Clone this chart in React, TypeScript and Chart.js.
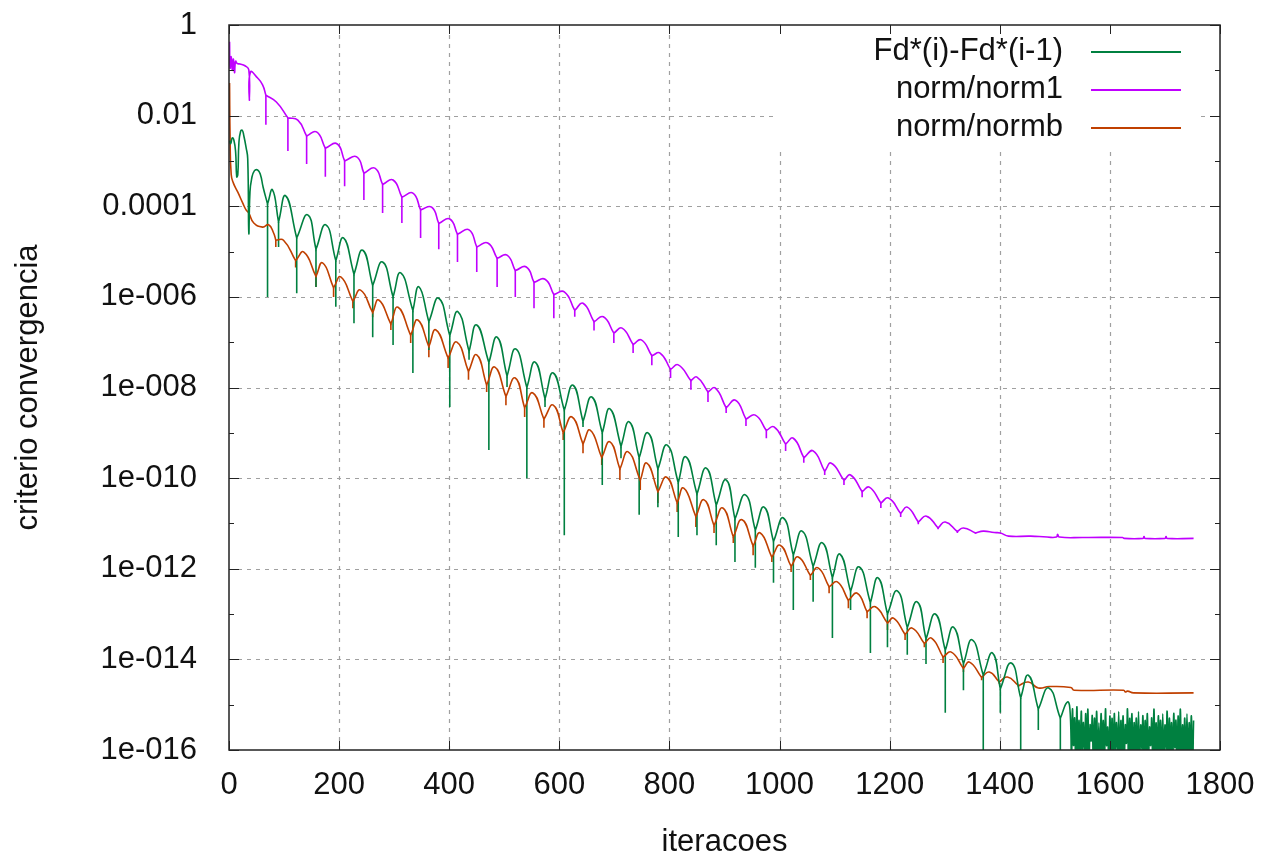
import { useEffect, useRef } from 'react';
import { Chart, registerables } from 'chart.js';

Chart.register(...registerables);

// ---------- axes ----------
const xTickValues = [0, 200, 400, 600, 800, 1000, 1200, 1400, 1600, 1800];
const yTickExps = [0, -1, -2, -3, -4, -5, -6, -7, -8, -9, -10, -11, -12, -13, -14, -15, -16];
const yMajorExps = [0, -2, -4, -6, -8, -10, -12, -14, -16];
const yTickLabels = ['1', '0.01', '0.0001', '1e-006', '1e-008', '1e-010', '1e-012', '1e-014', '1e-016'];

const seriesLabels = ['Fd*(i)-Fd*(i-1)', 'norm/norm1', 'norm/normb'];

// All values below are log10 of the plotted quantity.

// ---------- Fd*(i)-Fd*(i-1) (green) ----------
const greenHeadIter = [1, 3, 6, 9, 12, 14, 16, 18, 21, 24, 27, 31, 34, 36, 38, 41, 46, 52, 57, 62];
const greenHeadLog = [-2.55, -2.62, -2.49, -2.55, -2.8, -3.35, -3.3, -2.6, -2.35, -2.32, -2.45, -2.7, -2.95, -4.59, -3.71, -3.4, -3.22, -3.2, -3.3, -3.58];
const greenDipIter = [70, 90, 123, 158, 194, 227, 261, 298, 334, 363, 401, 436, 472, 505, 541, 574, 609, 643, 678, 712, 745, 779, 816, 850, 885, 919, 956, 989, 1025, 1061, 1096, 1129, 1165, 1196, 1232, 1266, 1301, 1334, 1370, 1401, 1438, 1470, 1510];
const greenDipFoot = [-3.95, -4.35, -4.7, -4.95, -5.2, -5.5, -5.75, -6.0, -6.3, -6.55, -6.85, -7.2, -7.45, -7.75, -8.0, -8.25, -8.5, -8.75, -9.0, -9.3, -9.55, -9.8, -10.1, -10.35, -10.6, -10.9, -11.15, -11.4, -11.7, -11.95, -12.2, -12.5, -12.75, -13.0, -13.3, -13.55, -13.8, -14.1, -14.35, -14.65, -14.85, -15.1, -15.3];
const greenDipBottom = [-6.0, -4.9, -5.92, -5.78, -6.22, -6.58, -6.89, -7.06, -7.68, -7.17, -8.43, -7.39, -9.38, -7.99, -10.0, -8.43, -11.26, -8.87, -10.15, -9.56, -10.81, -10.64, -11.3, -11.26, -11.48, -11.85, -11.98, -12.31, -12.91, -12.73, -13.53, -12.91, -13.86, -13.73, -13.9, -14.1, -15.18, -14.68, -16.5, -15.18, -16.5, -15.56, -16.5];
const greenPeakIter = [79, 103, 143, 176, 208, 243, 279, 312, 345, 381, 416, 450, 487, 521, 556, 589, 625, 659, 692, 727, 761, 796, 830, 867, 903, 938, 972, 1007, 1041, 1078, 1110, 1145, 1179, 1214, 1250, 1283, 1316, 1350, 1387, 1421, 1452, 1489, 1523];
const greenPeakLog = [-3.64, -3.77, -4.19, -4.41, -4.7, -4.97, -5.23, -5.47, -5.78, -6.03, -6.33, -6.62, -6.89, -7.15, -7.44, -7.68, -7.95, -8.21, -8.47, -8.76, -9.0, -9.27, -9.53, -9.78, -10.04, -10.37, -10.64, -10.88, -11.17, -11.43, -11.68, -11.96, -12.2, -12.49, -12.73, -13.0, -13.29, -13.57, -13.86, -14.08, -14.35, -14.63, -14.94];
const greenTailIter = [
  1528, 1530, 1532, 1534, 1536, 1538, 1540, 1542, 1544, 1546, 1548, 1550, 1552, 1554, 1556, 1558, 1560, 1562, 1564, 1566,
  1568, 1570, 1572, 1574, 1576, 1578, 1580, 1582, 1584, 1586, 1588, 1590, 1592, 1594, 1596, 1598, 1600, 1602, 1604, 1606,
  1608, 1610, 1612, 1614, 1616, 1618, 1620, 1622, 1624, 1626, 1628, 1630, 1632, 1634, 1636, 1638, 1640, 1642, 1644, 1646,
  1648, 1650, 1652, 1654, 1656, 1658, 1660, 1662, 1664, 1666, 1668, 1670, 1672, 1674, 1676, 1678, 1680, 1682, 1684, 1686,
  1688, 1690, 1692, 1694, 1696, 1698, 1700, 1702, 1704, 1706, 1708, 1710, 1712, 1714, 1716, 1718, 1720, 1722, 1724, 1726,
  1728, 1730, 1732, 1734, 1736, 1738, 1740, 1742, 1744, 1746, 1748, 1750, 1752,
];
const greenTailLog = [
  -15.2, -16.5, -15.1, -15.9, -15.3, -16.5, -15.05, -16.2, -15.35, -16.5, -15.15, -16.0, -15.4, -16.5, -15.2, -16.3, -15.1, -16.5, -15.45, -15.8,
  -15.25, -16.5, -15.3, -16.1, -15.15, -16.5, -15.4, -16.5, -15.2, -16.2, -15.35, -16.5, -15.1, -15.9, -15.5, -16.5, -15.25, -16.3, -15.3, -16.5,
  -15.2, -16.0, -15.4, -16.5, -15.15, -16.5, -15.35, -16.2, -15.25, -16.5, -15.45, -15.85, -15.1, -16.5, -15.3, -16.3, -15.2, -16.5, -15.4, -16.1,
  -15.3, -16.5, -15.15, -16.5, -15.45, -16.0, -15.25, -16.5, -15.35, -16.2, -15.2, -16.5, -15.5, -15.9, -15.3, -16.5, -15.1, -16.3, -15.4, -16.5,
  -15.25, -16.1, -15.35, -16.5, -15.2, -16.5, -15.45, -16.0, -15.15, -16.5, -15.3, -16.2, -15.4, -16.5, -15.2, -15.95, -15.35, -16.5, -15.25, -16.3,
  -15.1, -16.5, -15.45, -16.1, -15.3, -16.5, -15.2, -16.5, -15.4, -16.2, -15.25, -16.5, -15.35,
];

// ---------- norm/norm1 (purple) ----------
const purpleHeadIter = [1, 2, 4, 6, 8, 10, 12, 15, 20, 29, 36, 37, 39, 52, 61];
const purpleHeadLog = [-0.37, -0.95, -0.7, -1.0, -0.75, -1.05, -0.8, -0.85, -0.86, -0.9, -0.99, -1.66, -1.04, -1.17, -1.32];
const purpleDipIter = [67, 107, 141, 175, 210, 245, 279, 314, 348, 381, 415, 450, 487, 520, 554, 590, 628, 663, 699, 734, 768, 802, 839, 870, 903, 939, 976, 1011, 1044, 1082, 1117, 1150, 1184, 1220, 1252, 1288, 1323, 1356];
const purpleDipFoot = [-1.55, -2.05, -2.45, -2.72, -3.0, -3.27, -3.52, -3.8, -4.08, -4.38, -4.62, -4.9, -5.15, -5.42, -5.68, -5.95, -6.3, -6.55, -6.8, -7.05, -7.3, -7.6, -7.85, -8.1, -8.45, -8.7, -8.95, -9.25, -9.55, -9.85, -10.05, -10.3, -10.55, -10.78, -10.97, -11.1, -11.18, -11.21];
const purpleDipBottom = [-2.2, -2.78, -3.07, -3.35, -3.56, -3.86, -4.15, -4.37, -4.7, -4.95, -5.23, -5.45, -5.78, -6.0, -6.25, -6.47, -6.44, -6.74, -7.02, -7.24, -7.51, -7.79, -8.05, -8.32, -8.56, -8.85, -9.12, -9.4, -9.66, -9.93, -10.15, -10.42, -10.66, -10.86, -11.02, -11.13, -11.21, -11.23];
const purplePeakIter = [86, 125, 159, 196, 232, 265, 298, 334, 368, 401, 436, 470, 505, 540, 574, 609, 643, 680, 714, 749, 783, 816, 850, 883, 920, 956, 990, 1025, 1061, 1094, 1129, 1163, 1198, 1232, 1267, 1301, 1334, 1370];
const purplePeakLog = [-1.7, -2.1, -2.36, -2.62, -2.91, -3.16, -3.42, -3.71, -4.02, -4.28, -4.52, -4.81, -5.08, -5.34, -5.61, -5.89, -6.14, -6.44, -6.69, -6.95, -7.24, -7.5, -7.77, -8.01, -8.28, -8.61, -8.87, -9.12, -9.4, -9.67, -9.93, -10.2, -10.44, -10.64, -10.84, -10.97, -11.1, -11.17];
const purpleTailIter = [1390, 1401, 1416, 1456, 1486, 1503, 1505, 1508, 1552, 1623, 1626, 1660, 1662, 1664, 1700, 1702, 1704, 1752];
const purpleTailLog = [-11.2, -11.21, -11.28, -11.28, -11.3, -11.3, -11.24, -11.3, -11.31, -11.31, -11.33, -11.33, -11.29, -11.33, -11.33, -11.29, -11.33, -11.33];

// ---------- norm/normb (orange) ----------
const orangeHeadIter = [1, 2, 4, 8, 16, 25, 31, 36, 45, 61, 72, 81];
const orangeHeadLog = [-1.28, -2.5, -3.3, -3.49, -3.69, -3.93, -4.08, -4.15, -4.37, -4.46, -4.41, -4.59];
const orangeDipIter = [85, 121, 158, 190, 225, 261, 294, 330, 363, 398, 435, 468, 503, 537, 572, 607, 643, 677, 710, 747, 779, 814, 848, 881, 916, 952, 986, 1021, 1056, 1090, 1125, 1159, 1196, 1228, 1263, 1297, 1334, 1367, 1399, 1434];
const orangeDipFoot = [-4.75, -5.2, -5.55, -5.8, -6.1, -6.35, -6.6, -6.85, -7.1, -7.35, -7.65, -7.95, -8.2, -8.45, -8.7, -9.0, -9.25, -9.55, -9.8, -10.05, -10.3, -10.55, -10.85, -11.05, -11.3, -11.5, -11.75, -11.95, -12.15, -12.4, -12.7, -12.95, -13.2, -13.45, -13.65, -13.95, -14.2, -14.4, -14.5, -14.58];
const orangeDipBottom = [-4.9, -5.35, -5.78, -6.0, -6.25, -6.45, -6.73, -7.02, -7.33, -7.57, -7.83, -8.1, -8.39, -8.65, -8.89, -9.16, -9.45, -9.71, -10.04, -10.26, -10.55, -10.75, -11.08, -11.21, -11.43, -11.7, -11.85, -12.07, -12.25, -12.54, -12.87, -13.09, -13.35, -13.57, -13.73, -14.08, -14.28, -14.46, -14.54, -14.61];
const orangePeakIter = [99, 136, 170, 203, 239, 272, 307, 343, 376, 414, 450, 483, 520, 552, 589, 623, 656, 692, 725, 759, 795, 826, 863, 897, 932, 965, 1001, 1034, 1070, 1105, 1141, 1174, 1207, 1241, 1276, 1312, 1345, 1381, 1414, 1452];
const orangePeakLog = [-4.75, -5.01, -5.25, -5.56, -5.85, -6.07, -6.23, -6.51, -6.73, -7.0, -7.28, -7.55, -7.79, -8.12, -8.39, -8.65, -8.94, -9.2, -9.42, -9.67, -9.98, -10.22, -10.48, -10.66, -10.92, -11.21, -11.48, -11.74, -11.98, -12.29, -12.54, -12.84, -13.09, -13.31, -13.53, -13.84, -14.06, -14.28, -14.39, -14.5];
const orangeTailIter = [1470, 1490, 1529, 1535, 1625, 1628, 1632, 1643, 1752];
const orangeTailLog = [-14.63, -14.6, -14.62, -14.68, -14.68, -14.72, -14.7, -14.74, -14.74];

const COLORS = ['#008040', '#c000ff', '#c04000'];
const FONT_FAMILY = "'Liberation Sans', Arial, sans-serif";
const TEXT_COLOR = '#111111';

type Pt = { x: number; y: number };

// Arch curve: head, then for every dip the arch foot (twice, so the curve has a cusp there) and the next peak, then the tail.
function buildArches(
  headIter: number[], headLog: number[],
  dipIter: number[], dipFoot: number[],
  peakIter: number[], peakLog: number[],
  tailIter: number[], tailLog: number[]
): Pt[] {
  const pts: Pt[] = [];
  headIter.forEach((x, i) => pts.push({ x, y: Math.pow(10, headLog[i]) }));
  dipIter.forEach((d, i) => {
    pts.push({ x: d, y: Math.pow(10, dipFoot[i]) });
    pts.push({ x: d, y: Math.pow(10, dipFoot[i]) });
    pts.push({ x: peakIter[i], y: Math.pow(10, peakLog[i]) });
  });
  tailIter.forEach((x, i) => pts.push({ x, y: Math.pow(10, tailLog[i]) }));
  return pts;
}

// Spikes: straight drops from the arch foot to the bottom value at each dip, separated by gaps.
function buildSpikes(dipIter: number[], dipFoot: number[], dipBottom: number[]): Pt[] {
  const pts: Pt[] = [];
  dipIter.forEach((d, i) => {
    pts.push({ x: d, y: Math.pow(10, dipFoot[i]) });
    pts.push({ x: d, y: Math.pow(10, dipBottom[i]) });
    pts.push({ x: d, y: NaN });
  });
  return pts;
}

const gnuplotDecor = {
  id: 'gnuplotDecor',
  beforeDatasetsDraw(chart: any) {
    const { ctx, chartArea: a, scales } = chart;
    const xs = scales.x;
    const ys = scales.y;
    ctx.save();
    ctx.strokeStyle = '#a0a0a0';
    ctx.lineWidth = 1.2;
    ctx.setLineDash([4, 5]);
    xTickValues.forEach((v) => {
      if (v === xTickValues[0] || v === xTickValues[xTickValues.length - 1]) return;
      const px = Math.round(xs.getPixelForValue(v)) + 0.5;
      ctx.beginPath();
      ctx.moveTo(px, a.bottom);
      ctx.lineTo(px, a.top);
      ctx.stroke();
    });
    yMajorExps.forEach((e) => {
      if (e === 0 || e === -16) return;
      const py = Math.round(ys.getPixelForValue(Math.pow(10, e))) + 0.5;
      ctx.beginPath();
      ctx.moveTo(a.left, py);
      ctx.lineTo(a.right, py);
      ctx.stroke();
    });
    ctx.restore();
  },
  afterDatasetsDraw(chart: any) {
    const { ctx, chartArea: a, scales } = chart;
    const xs = scales.x;
    const ys = scales.y;
    ctx.save();
    // opaque key box
    ctx.fillStyle = '#ffffff';
    ctx.fillRect(775, a.top + 1, 422, 121);
    // frame
    ctx.strokeStyle = '#222222';
    ctx.lineWidth = 1.5;
    ctx.setLineDash([]);
    ctx.strokeRect(a.left, a.top, a.right - a.left, a.bottom - a.top);
    // inward ticks
    ctx.lineWidth = 1;
    xTickValues.forEach((v) => {
      const px = Math.round(xs.getPixelForValue(v)) + 0.5;
      ctx.beginPath();
      ctx.moveTo(px, a.bottom);
      ctx.lineTo(px, a.bottom - 9);
      ctx.moveTo(px, a.top);
      ctx.lineTo(px, a.top + 9);
      ctx.stroke();
    });
    yTickExps.forEach((e) => {
      const len = yMajorExps.includes(e) ? 10 : 5;
      const py = Math.round(ys.getPixelForValue(Math.pow(10, e))) + 0.5;
      ctx.beginPath();
      ctx.moveTo(a.left, py);
      ctx.lineTo(a.left + len, py);
      ctx.moveTo(a.right, py);
      ctx.lineTo(a.right - len, py);
      ctx.stroke();
    });
    // key
    const rows = [52, 90, 128];
    ctx.font = `31px ${FONT_FAMILY}`;
    ctx.textAlign = 'right';
    ctx.textBaseline = 'middle';
    chart.data.datasets
      .filter((ds: any) => !ds.isSpike)
      .forEach((ds: any, i: number) => {
        ctx.fillStyle = TEXT_COLOR;
        ctx.fillText(ds.label, 1063, rows[i] - 1);
        ctx.strokeStyle = ds.borderColor;
        ctx.lineWidth = 2;
        ctx.beginPath();
        ctx.moveTo(1091, rows[i]);
        ctx.lineTo(1181, rows[i]);
        ctx.stroke();
      });
    ctx.restore();
  },
};

export default function App() {
  const canvasRef = useRef<HTMLCanvasElement | null>(null);

  useEffect(() => {
    const canvas = canvasRef.current;
    if (!canvas) return;
    const greenArch = buildArches(greenHeadIter, greenHeadLog, greenDipIter, greenDipFoot, greenPeakIter, greenPeakLog, greenTailIter, greenTailLog);
    const purpleArch = buildArches(purpleHeadIter, purpleHeadLog, purpleDipIter, purpleDipFoot, purplePeakIter, purplePeakLog, purpleTailIter, purpleTailLog);
    const orangeArch = buildArches(orangeHeadIter, orangeHeadLog, orangeDipIter, orangeDipFoot, orangePeakIter, orangePeakLog, orangeTailIter, orangeTailLog);
    const greenSpikes = buildSpikes(greenDipIter, greenDipFoot, greenDipBottom);
    const purpleSpikes = buildSpikes(purpleDipIter, purpleDipFoot, purpleDipBottom);
    const orangeSpikes = buildSpikes(orangeDipIter, orangeDipFoot, orangeDipBottom);

    const font = { family: FONT_FAMILY, size: 31 };
    const archDs = (label: string, data: Pt[], color: string) => ({
      label,
      data,
      borderColor: color,
      backgroundColor: color,
      borderWidth: 1.6,
      pointRadius: 0,
      tension: 0.5,
      fill: false,
      isSpike: false,
    });
    const spikeDs = (label: string, data: Pt[], color: string) => ({
      label,
      data,
      borderColor: color,
      backgroundColor: color,
      borderWidth: 1.6,
      pointRadius: 0,
      tension: 0,
      fill: false,
      spanGaps: false,
      isSpike: true,
    });

    const chart = new Chart(canvas, {
      type: 'line',
      data: {
        datasets: [
          archDs(seriesLabels[0], greenArch, COLORS[0]),
          archDs(seriesLabels[1], purpleArch, COLORS[1]),
          archDs(seriesLabels[2], orangeArch, COLORS[2]),
          spikeDs(seriesLabels[0] + ' spikes', greenSpikes, COLORS[0]),
          spikeDs(seriesLabels[1] + ' spikes', purpleSpikes, COLORS[1]),
          spikeDs(seriesLabels[2] + ' spikes', orangeSpikes, COLORS[2]),
        ],
      },
      options: {
        animation: false,
        responsive: false,
        parsing: false,
        normalized: true,
        layout: { padding: { top: 25, right: 43, left: 0, bottom: 0 } },
        plugins: { legend: { display: false }, tooltip: { enabled: false } },
        scales: {
          x: {
            type: 'linear',
            min: 0,
            max: 1800,
            afterFit: (s: any) => { s.height = 111; s.paddingLeft = 0; s.paddingRight = 0; },
            afterBuildTicks: (s: any) => { s.ticks = xTickValues.map((v) => ({ value: v })); },
            ticks: {
              autoSkip: false,
              maxRotation: 0,
              padding: 17,
              color: TEXT_COLOR,
              font,
              callback: (v: any) => String(v),
            },
            grid: { display: false, drawTicks: false },
            border: { display: false },
            title: { display: true, text: 'iteracoes', color: TEXT_COLOR, font, padding: { top: 0, bottom: 0 } },
          },
          y: {
            type: 'logarithmic',
            min: 1e-16,
            max: 1,
            afterFit: (s: any) => { s.width = 229; s.paddingTop = 0; s.paddingBottom = 0; },
            afterBuildTicks: (s: any) => { s.ticks = yTickExps.map((e) => ({ value: Math.pow(10, e) })); },
            ticks: {
              autoSkip: false,
              padding: 32,
              color: TEXT_COLOR,
              font,
              callback: (v: any) => {
                const e = Math.round(Math.log10(Number(v)));
                const idx = yMajorExps.indexOf(e);
                return idx >= 0 ? yTickLabels[idx] : '';
              },
            },
            grid: { display: false, drawTicks: false },
            border: { display: false },
            title: { display: true, text: 'criterio convergencia', color: TEXT_COLOR, font, padding: { top: 10, bottom: 0 } },
          },
        },
      } as any,
      plugins: [gnuplotDecor],
    });
    return () => chart.destroy();
  }, []);

  return (
    <div style={{ position: 'fixed', left: 0, top: 0, width: 1263, height: 861, background: '#ffffff' }}>
      <canvas ref={canvasRef} width={1263} height={861} style={{ display: 'block' }} />
    </div>
  );
}
